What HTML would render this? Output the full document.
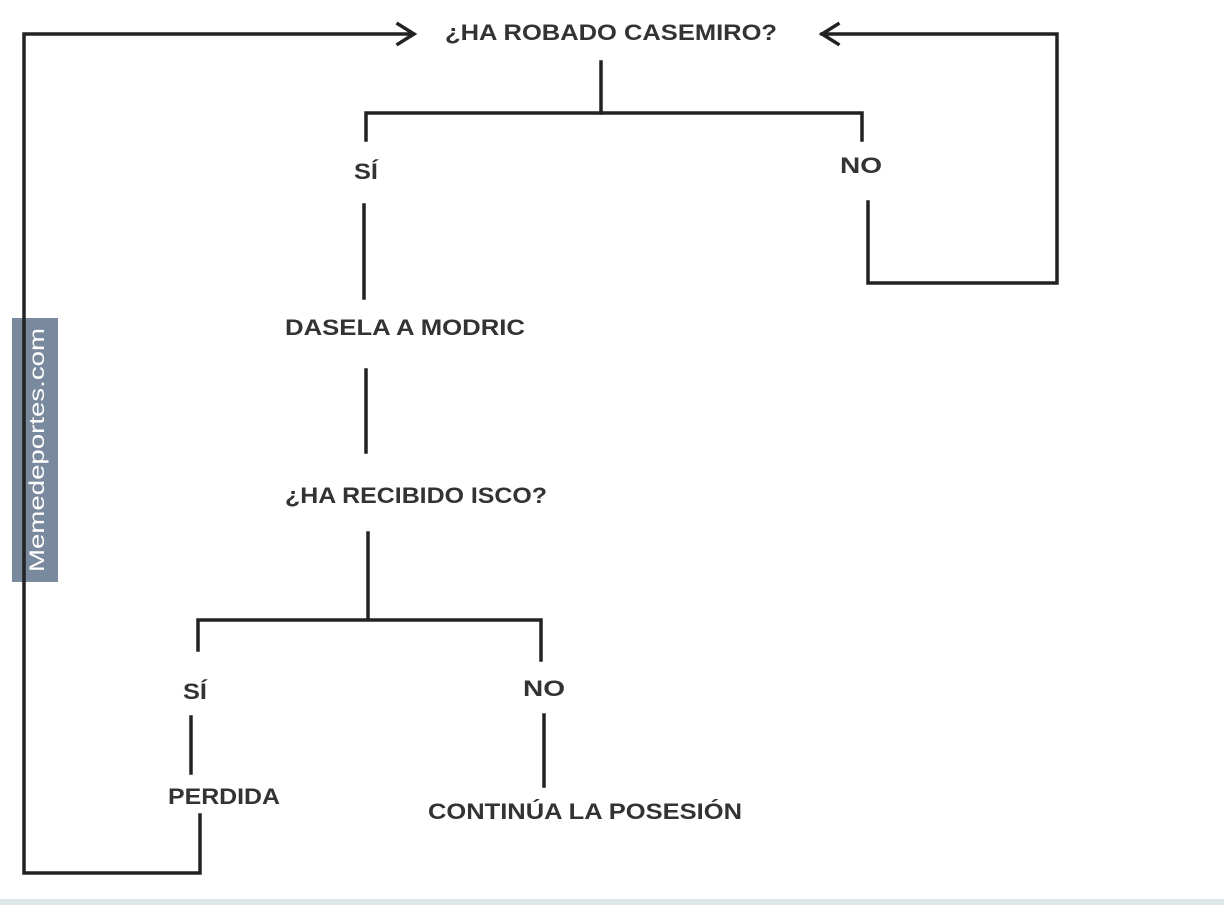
<!DOCTYPE html>
<html><head><style>
html,body{margin:0;padding:0;background:#fff;width:1224px;height:905px;overflow:hidden}
svg{display:block}
text{font-family:"Liberation Sans",sans-serif;font-weight:bold;font-size:22px;fill:#333}
</style></head><body>
<svg width="1224" height="905" viewBox="0 0 1224 905">
<rect x="0" y="899" width="1224" height="6" fill="#dfe8e8"/>
<rect x="12" y="318" width="46" height="264" fill="#7a8a9e"/>
<text x="0" y="0" transform="translate(44,572) rotate(-90)" style="font-weight:normal;font-size:21px;fill:#fff" textLength="244" lengthAdjust="spacingAndGlyphs">Memedeportes.com</text>
<g stroke="#222" stroke-width="3.5" fill="none" stroke-linecap="square">
<polyline points="200,815 200,873 24,873 24,34 413,34"/>
<polyline points="398,24 414,34 398,44"/>
<polyline points="822,34 1057,34 1057,283 868,283 868,202"/>
<polyline points="838,24 822,34 838,44"/>
<line x1="601" y1="62" x2="601" y2="113"/>
<polyline points="366,140 366,113 862,113 862,140"/>
<line x1="364" y1="205" x2="364" y2="298"/>
<line x1="366" y1="370" x2="366" y2="452"/>
<line x1="368" y1="533" x2="368" y2="618"/>
<polyline points="198,650 198,620 541,620 541,660"/>
<line x1="191" y1="717" x2="191" y2="773"/>
<line x1="544" y1="715" x2="544" y2="786"/>
</g>
<text x="445" y="40" textLength="332" lengthAdjust="spacingAndGlyphs">¿HA ROBADO CASEMIRO?</text>
<text x="354" y="179" textLength="24" lengthAdjust="spacingAndGlyphs">SÍ</text>
<text x="840" y="173" textLength="42" lengthAdjust="spacingAndGlyphs">NO</text>
<text x="285" y="335" textLength="240" lengthAdjust="spacingAndGlyphs">DASELA A MODRIC</text>
<text x="285" y="503" textLength="262" lengthAdjust="spacingAndGlyphs">¿HA RECIBIDO ISCO?</text>
<text x="183" y="699" textLength="24" lengthAdjust="spacingAndGlyphs">SÍ</text>
<text x="523" y="696" textLength="42" lengthAdjust="spacingAndGlyphs">NO</text>
<text x="168" y="804" textLength="112" lengthAdjust="spacingAndGlyphs">PERDIDA</text>
<text x="428" y="819" textLength="314" lengthAdjust="spacingAndGlyphs">CONTINÚA LA POSESIÓN</text>
</svg>
</body></html>
